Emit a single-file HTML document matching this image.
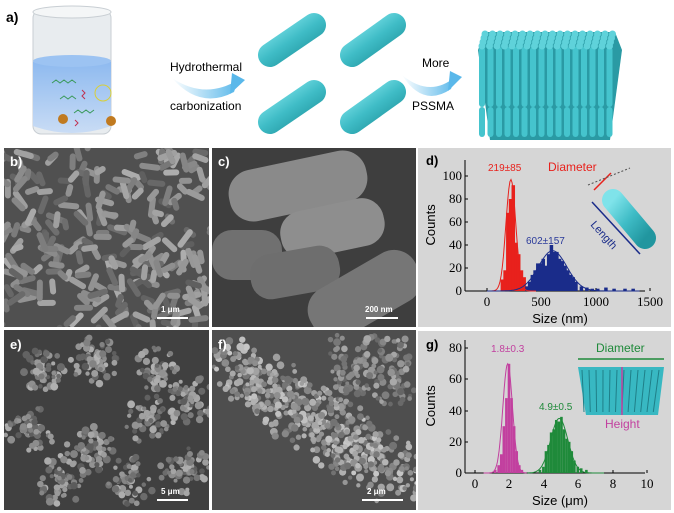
<!DOCTYPE html><html><head><meta charset="utf-8"><style>
body{margin:0;background:#fff;width:674px;height:513px;overflow:hidden;font-family:"Liberation Sans",sans-serif}
svg{display:block}
.t{font-family:"Liberation Sans",sans-serif}
.s{font-family:"Liberation Serif",serif;font-size:13px}
</style></head><body>
<svg id="sv" width="674" height="513" viewBox="0 0 674 513" xmlns="http://www.w3.org/2000/svg">
<defs>
<linearGradient id="rod" x1="0" y1="0" x2="1" y2="1"><stop offset="0" stop-color="#7fe3ea"/><stop offset="0.5" stop-color="#3fbcc6"/><stop offset="1" stop-color="#21969f"/></linearGradient>
<linearGradient id="arr" x1="0" x2="1"><stop offset="0" stop-color="#fff"/><stop offset="1" stop-color="#5ab8ea"/></linearGradient>
<linearGradient id="wat" x1="0" y1="0" x2="0" y2="1"><stop offset="0" stop-color="#8bb8ef"/><stop offset="1" stop-color="#c9dcf5"/></linearGradient>
<clipPath id="cb"><rect x="4" y="148" width="205" height="179"/></clipPath>
<clipPath id="cc"><rect x="212" y="148" width="204" height="179"/></clipPath>
<clipPath id="ce"><rect x="4" y="330" width="205" height="180"/></clipPath>
<clipPath id="cf"><rect x="212" y="330" width="204" height="180"/></clipPath>
</defs>
<rect width="674" height="513" fill="#fff"/>
<text x="6" y="22" class="t" font-size="14" font-weight="bold">a)</text>
<!-- beaker -->
<rect x="33" y="10" width="78" height="124" rx="8" fill="#e8ecef" stroke="#c8ced3"/>
<ellipse cx="72" cy="12" rx="39" ry="6" fill="#f4f6f7" stroke="#c8ced3"/>
<path d="M33 62 Q72 54 111 62 L111 126 Q72 140 33 126Z" fill="url(#wat)"/>
<ellipse cx="72" cy="61" rx="39" ry="6" fill="#9cc3f2"/>
<path d="M52 83 l4 -3 l4 3 l4 -3 l4 3 l4 -3 l4 3" stroke="#3a9a5a" fill="none"/>
<path d="M60 99 l4 -3 l4 3 l4 -3 l4 3" stroke="#3a9a5a" fill="none"/>
<path d="M74 113 l4 -3 l4 3 l4 -3 l4 3 l4 -3" stroke="#3a9a5a" fill="none"/>
<path d="M82 90 l3 3 l-3 3 l3 3" stroke="#c03050" fill="none"/>
<path d="M75 120 l3 3 l-3 3" stroke="#c03050" fill="none"/>
<circle cx="103" cy="93" r="8" fill="none" stroke="#d8cf3a"/>
<circle cx="63" cy="119" r="5" fill="#c07a20"/><circle cx="111" cy="121" r="5" fill="#c07a20"/>
<!-- arrows -->
<path d="M172 78 Q205 100 238 80 L234 92 Q200 110 172 78Z" fill="url(#arr)"/>
<path d="M232 73 L245 80 L230 94Z" fill="#5ab8ea"/>
<path d="M402 75 Q430 98 455 77 L451 89 Q423 108 402 75Z" fill="url(#arr)"/>
<path d="M450 71 L462 77 L448 91Z" fill="#5ab8ea"/>
<text x="170" y="71" class="t" font-size="12">Hydrothermal</text>
<text x="170" y="110" class="t" font-size="12">carbonization</text>
<text x="422" y="67" class="t" font-size="12">More</text>
<text x="412" y="110" class="t" font-size="12">PSSMA</text>
<!-- rods -->
<g stroke="url(#rod)" stroke-width="24" stroke-linecap="round">
<line x1="270" y1="55" x2="314" y2="25"/><line x1="352" y1="55" x2="394" y2="25"/>
<line x1="270" y1="122" x2="314" y2="92"/><line x1="352" y1="122" x2="394" y2="92"/>
</g>
<!-- assembly -->
<g id="asm"></g>
<!-- SEM panels -->
<rect x="4" y="148" width="205" height="179" fill="#505050"/>
<rect x="212" y="148" width="204" height="179" fill="#3e3e3e"/>
<rect x="4" y="330" width="205" height="180" fill="#404040"/>
<rect x="212" y="330" width="204" height="180" fill="#4e4e4e"/>
<g id="semb" clip-path="url(#cb)"></g><g id="semc" clip-path="url(#cc)">
<rect x="228" y="160" width="140" height="52" rx="24" fill="#8a8a8a" transform="rotate(-12 298 186)"/>
<rect x="280" y="205" width="105" height="48" rx="22" fill="#8e8e8e" transform="rotate(-12 330 229)"/>
<rect x="212" y="230" width="70" height="50" rx="20" fill="#707070"/>
<rect x="250" y="250" width="90" height="45" rx="20" fill="#6e6e6e" transform="rotate(-10 295 272)"/>
<rect x="305" y="270" width="120" height="55" rx="24" fill="#767676" transform="rotate(-30 360 297)"/>
</g>
<g id="seme" clip-path="url(#ce)"></g><g id="semf" clip-path="url(#cf)"></g>
<g class="t" font-size="13" font-weight="bold" fill="#fff">
<text x="10" y="166">b)</text><text x="218" y="166">c)</text><text x="10" y="349">e)</text><text x="218" y="349">f)</text></g>
<g class="t" font-size="8" fill="#fff" font-weight="bold">
<text x="161" y="312">1 μm</text><text x="365" y="312">200 nm</text><text x="161" y="494">5 μm</text><text x="367" y="494">2 μm</text></g>
<g stroke="#fff" stroke-width="2"><line x1="157" y1="318" x2="188" y2="318"/><line x1="366" y1="318" x2="398" y2="318"/><line x1="157" y1="500" x2="188" y2="500"/><line x1="362" y1="500" x2="403" y2="500"/></g>
<!-- plots -->
<rect x="418" y="148" width="253" height="179" fill="#d6d6d6"/>
<rect x="418" y="331" width="253" height="179" fill="#d6d6d6"/>
<g id="plots"></g>
<text x="426" y="165" class="t" font-size="13" font-weight="bold">d)</text>
<text x="426" y="349" class="t" font-size="13" font-weight="bold">g)</text>
</svg>
<script>
var NS="http://www.w3.org/2000/svg";
function el(p,t,a){var e=document.createElementNS(NS,t);for(var k in a)e.setAttribute(k,a[k]);p.appendChild(e);return e;}
var seed=7;function r(){seed=(seed*16807)%2147483647;return seed/2147483647;}
// assembly
var A=document.getElementById('asm');
el(A,'polygon',{points:"485,32 615,32 622,50 610,140 490,140 478,50",fill:"#2a9aa4"});
for(var row=0;row<3;row++){for(var i=0;i<16;i++){var x=482+i*8.5,y0=50+row*30;el(A,'line',{x1:x,y1:y0,x2:x,y2:y0+(row==0?30:24),stroke:"#45c4cd","stroke-width":6,"stroke-linecap":"round"});}}
for(var j=0;j<4;j++)for(var i=0;i<18;i++)el(A,'circle',{cx:485+i*7.5-j*1,cy:34+j*4,r:3.5,fill:"#5fd2da"});
// SEM b
var B=document.getElementById('semb');
for(var i=0;i<260;i++){var x=4+r()*205,y=148+r()*179,g=Math.floor(95+r()*80);el(B,'rect',{x:x,y:y,width:12+r()*10,height:6,rx:3,fill:"rgb("+g+","+g+","+g+")",transform:"rotate("+(r()*360)+" "+x+" "+y+")"});}
// SEM e
var E=document.getElementById('seme');
var cl=[[40,370],[95,360],[160,370],[30,430],[90,450],[150,420],[60,480],[130,480],[185,470],[190,400]];
cl.forEach(function(c){for(var k=0;k<60;k++){var a=r()*6.28,d=r()*25,g=Math.floor(90+r()*90);el(E,'circle',{cx:c[0]+Math.cos(a)*d,cy:c[1]+Math.sin(a)*d,r:2+r()*2,fill:"rgb("+g+","+g+","+g+")"});}});
// SEM f
var F=document.getElementById('semf');
for(var k=0;k<500;k++){var t=r(),x=225+t*180+(r()-.5)*60,y=360+t*120+(r()-.5)*50;var g=Math.floor(110+r()*90);el(F,'circle',{cx:x,cy:y,r:2+r()*2,fill:"rgb("+g+","+g+","+g+")"});}
for(var k=0;k<150;k++){var x=330+r()*84,y=335+r()*70,g=Math.floor(100+r()*70);el(F,'circle',{cx:x,cy:y,r:2+r()*2,fill:"rgb("+g+","+g+","+g+")"});}
// plots
var P=document.getElementById('plots');
function axes(ox,oy,xe,yt,yl,xt,xl,lab,top){
 el(P,'line',{x1:ox,y1:oy,x2:xe,y2:oy,stroke:"#000"});el(P,'line',{x1:ox,y1:oy,x2:ox,y2:top,stroke:"#000"});
 yt.forEach(function(y,i){el(P,'line',{x1:ox,y1:y,x2:ox+3,y2:y,stroke:"#000"});var t=el(P,'text',{x:ox-3,y:y+4,"text-anchor":"end","class":"s"});t.textContent=yl[i];});
 xt.forEach(function(x,i){el(P,'line',{x1:x,y1:oy,x2:x,y2:oy-3,stroke:"#000"});var t=el(P,'text',{x:x,y:oy+15,"text-anchor":"middle","class":"s"});t.textContent=xl[i];});
 var t=el(P,'text',{x:(ox+xe)/2+5,y:oy+32,"text-anchor":"middle","class":"t","font-size":"13"});t.textContent=lab;
 var c=el(P,'text',{x:0,y:0,"class":"t","font-size":"13",transform:"translate("+(ox-30)+","+(oy-(oy-top)/2+20)+") rotate(-90)"});c.textContent="Counts";
}
// d
var ox=465,oy=291;
axes(ox,oy,645,[291,268,245,222,199,176],["0","20","40","60","80","100"],[487,541,596,650],["0","500","1000","1500"],"Size (nm)",160);
function X(v){return 487+v*0.109;} function Y(c){return oy-c*1.15;}
var red=[[125,10],[150,18],[175,68],[200,80],[225,92],[250,42],[275,32],[300,18],[325,12],[350,4],[375,2]];
red.forEach(function(b){el(P,'rect',{x:X(b[0]),y:Y(b[1]),width:3.5,height:b[1]*1.15,fill:"#e8211c"});});
var blue=[[350,4],[375,8],[400,14],[425,18],[450,24],[475,24],[500,28],[525,22],[550,32],[575,40],[600,34],[625,34],[650,28],[675,26],[700,22],[725,18],[750,14],[775,12],[800,8],[850,4],[900,3],[950,2],[1000,2],[1075,3],[1150,2],[1250,2],[1325,2]];
blue.forEach(function(b){el(P,'rect',{x:X(b[0]),y:Y(b[1]),width:3.5,height:b[1]*1.15,fill:"#1a2c8a"});});
var pr="",pb="";for(var v=0;v<=1400;v+=10){var cr=97*Math.exp(-Math.pow(v-219,2)/(2*45*45)),cb=35*Math.exp(-Math.pow(v-602,2)/(2*130*130));if(v<=450)pr+=(pr?"L":"M")+X(v).toFixed(1)+" "+Y(cr).toFixed(1);pb+=(pb?"L":"M")+X(v).toFixed(1)+" "+Y(cb).toFixed(1);}
el(P,'path',{d:pr,stroke:"#e8211c",fill:"none"});el(P,'path',{d:pb,stroke:"#1a2c8a",fill:"none"});
var t=el(P,'text',{x:488,y:171,"class":"t","font-size":"10",fill:"#e8211c"});t.textContent="219±85";
t=el(P,'text',{x:526,y:244,"class":"t","font-size":"10",fill:"#2a3a9a"});t.textContent="602±157";
t=el(P,'text',{x:548,y:171,"class":"t","font-size":"12",fill:"#e8211c"});t.textContent="Diameter";
el(P,'line',{x1:613,y1:200,x2:645,y2:238,stroke:"url(#rod)","stroke-width":22,"stroke-linecap":"round"});
el(P,'line',{x1:594,y1:190,x2:611,y2:173,stroke:"#e8211c","stroke-width":1.5});
el(P,'line',{x1:592,y1:202,x2:640,y2:254,stroke:"#1a2c8a","stroke-width":1.5});
el(P,'line',{x1:588,y1:185,x2:630,y2:168,stroke:"#555","stroke-dasharray":"2,2"});
t=el(P,'text',{x:0,y:0,"class":"t","font-size":"11",fill:"#1a2c8a",transform:"translate(590,225) rotate(48)"});t.textContent="Length";
// g
oy=473;
axes(465,oy,645,[473,442,411,379,348],["0","20","40","60","80"],[475,509,544,578,613,647],["0","2","4","6","8","10"],"Size (μm)",340);
function X2(v){return 475+v*17.2;} function Y2(c){return oy-c*1.56;}
var pk=[[1.1,2],[1.3,5],[1.45,12],[1.6,30],[1.75,48],[1.9,70],[2.05,48],[2.2,30],[2.35,14],[2.5,5],[2.65,2]];
pk.forEach(function(b){el(P,'rect',{x:X2(b[0]),y:Y2(b[1]),width:2.6,height:b[1]*1.56,fill:"#c2409f"});});
var gr=[[3.7,2],[3.9,4],[4.05,14],[4.2,18],[4.35,26],[4.5,28],[4.65,34],[4.8,33],[4.95,36],[5.1,28],[5.25,22],[5.4,20],[5.55,14],[5.7,8],[5.9,4],[6.1,3],[6.4,2]];
gr.forEach(function(b){el(P,'rect',{x:X2(b[0]),y:Y2(b[1]),width:2.6,height:b[1]*1.56,fill:"#1f8a3a"});});
var pp="",pg="";for(var v=0.5;v<=7.5;v+=0.05){var a=70*Math.exp(-Math.pow(v-1.9,2)/(2*0.28*0.28)),b=35*Math.exp(-Math.pow(v-4.9,2)/(2*0.5*0.5));if(v<3)pp+=(pp?"L":"M")+X2(v).toFixed(1)+" "+Y2(a).toFixed(1);if(v>3)pg+=(pg?"L":"M")+X2(v).toFixed(1)+" "+Y2(b).toFixed(1);}
el(P,'path',{d:pp,stroke:"#c2409f",fill:"none"});el(P,'path',{d:pg,stroke:"#1f8a3a",fill:"none"});
t=el(P,'text',{x:491,y:352,"class":"t","font-size":"10",fill:"#c2409f"});t.textContent="1.8±0.3";
t=el(P,'text',{x:539,y:410,"class":"t","font-size":"10",fill:"#1f8a3a"});t.textContent="4.9±0.5";
t=el(P,'text',{x:596,y:352,"class":"t","font-size":"12",fill:"#1f8a3a"});t.textContent="Diameter";
el(P,'line',{x1:578,y1:359,x2:664,y2:359,stroke:"#1f8a3a","stroke-width":1.5});
el(P,'polygon',{points:"578,367 664,367 658,415 586,415",fill:"#38b8c2"});
for(var i=0;i<12;i++)el(P,'line',{x1:582+i*7,y1:370,x2:584+i*6.3,y2:412,stroke:"#1f7f88","stroke-width":1});
el(P,'line',{x1:622,y1:367,x2:622,y2:415,stroke:"#c2409f","stroke-width":1.5});
t=el(P,'text',{x:605,y:428,"class":"t","font-size":"12",fill:"#c2409f"});t.textContent="Height";
</script>
</body></html>
